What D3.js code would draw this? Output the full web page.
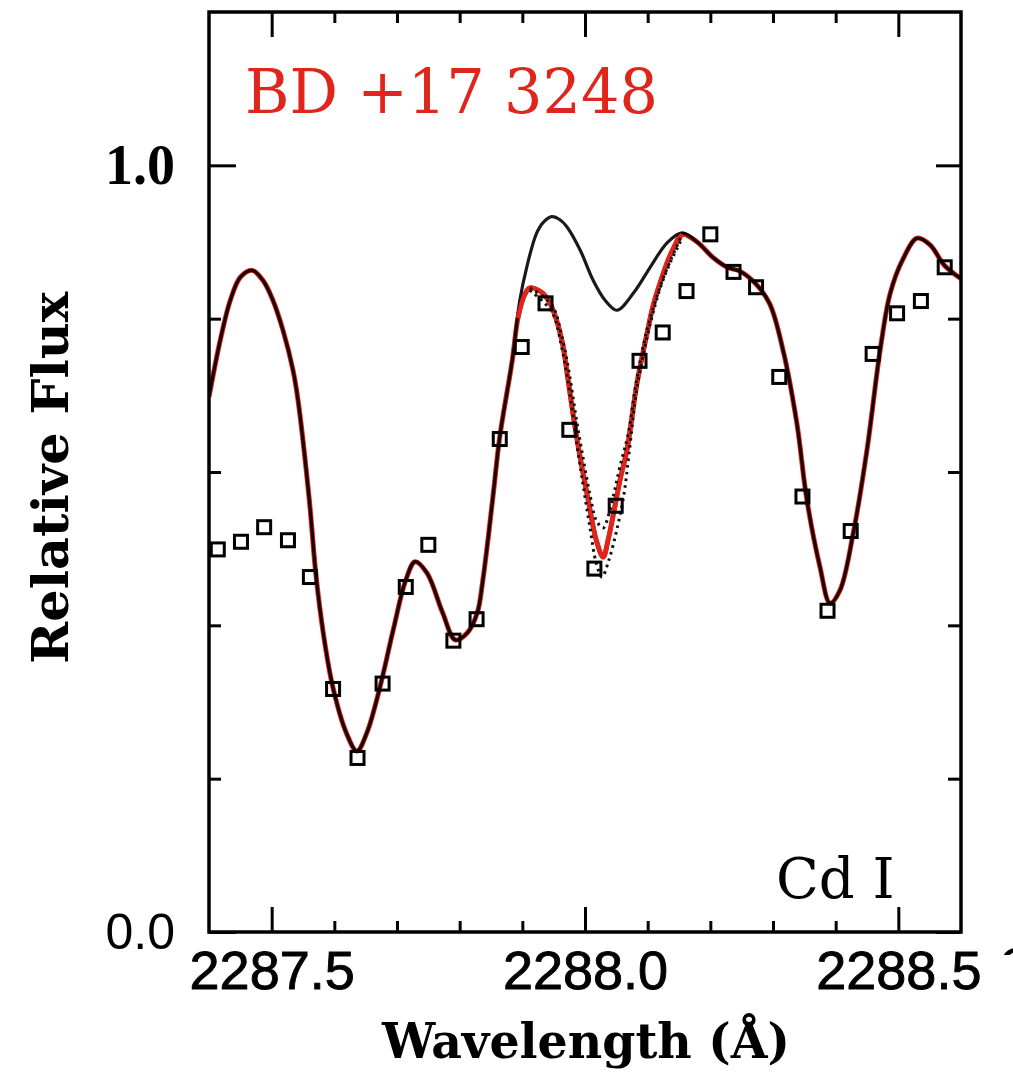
<!DOCTYPE html>
<html>
<head>
<meta charset="utf-8">
<script src="https://cdn.jsdelivr.net/npm/d3@7"></script>
<style>
  html, body { margin: 0; padding: 0; background: #ffffff; }
  svg { display: block; }
</style>
</head>
<body>
<svg id="chart" width="1013" height="1080"></svg>
<script>
// ---- Observed spectrum (squares) ----
const obsWave = [2287.414, 2287.451, 2287.488, 2287.526, 2287.561, 2287.598, 2287.637, 2287.677,
                 2287.714, 2287.750, 2287.790, 2287.827, 2287.864, 2287.899, 2287.937, 2287.975,
                 2288.015, 2288.049, 2288.087, 2288.124, 2288.162, 2288.200, 2288.237, 2288.273,
                 2288.310, 2288.347, 2288.387, 2288.424, 2288.459, 2288.498, 2288.536, 2288.574];
const obsFlux = [0.499, 0.509, 0.528, 0.511, 0.463, 0.317, 0.227, 0.324,
                 0.450, 0.505, 0.380, 0.408, 0.643, 0.763, 0.820, 0.655,
                 0.474, 0.556, 0.745, 0.782, 0.836, 0.910, 0.861, 0.841,
                 0.724, 0.568, 0.419, 0.523, 0.754, 0.807, 0.823, 0.867];

// ---- Synthetic spectrum without Cd (black) ----
const synthWave = [2287.400, 2287.418, 2287.434, 2287.450, 2287.469, 2287.486, 2287.502, 2287.518,
                   2287.534, 2287.542, 2287.560, 2287.571, 2287.584, 2287.598, 2287.619,
                   2287.636, 2287.652, 2287.673, 2287.694, 2287.714, 2287.729, 2287.748, 2287.773,
                   2287.793, 2287.812, 2287.828, 2287.837, 2287.853, 2287.864, 2287.884, 2287.896,
                   2287.907, 2287.923, 2287.935, 2287.947, 2287.960, 2287.971, 2287.992, 2288.013,
                   2288.032, 2288.051, 2288.077, 2288.104, 2288.131, 2288.155, 2288.179, 2288.204,
                   2288.227, 2288.247, 2288.273, 2288.295, 2288.316, 2288.338, 2288.354, 2288.375,
                   2288.391, 2288.407, 2288.428, 2288.450, 2288.471, 2288.487, 2288.507, 2288.530,
                   2288.551, 2288.573, 2288.600];
const synthFlux = [0.698, 0.772, 0.824, 0.854, 0.863, 0.850, 0.824, 0.785,
                   0.733, 0.694, 0.564, 0.463, 0.381, 0.318, 0.260,
                   0.236, 0.260, 0.320, 0.394, 0.459, 0.483, 0.468, 0.416,
                   0.381, 0.390, 0.416, 0.459, 0.567, 0.646, 0.746, 0.824,
                   0.867, 0.912, 0.927, 0.933, 0.929, 0.920, 0.890, 0.850,
                   0.824, 0.811, 0.833, 0.867, 0.899, 0.912, 0.900, 0.880,
                   0.867, 0.862, 0.845, 0.819, 0.759, 0.664, 0.564, 0.476,
                   0.429, 0.446, 0.520, 0.629, 0.759, 0.833, 0.877, 0.905,
                   0.896, 0.870, 0.852];

// ---- Synthesis with the adopted Cd abundance (red), across the Cd I line ----
const cdWave = [2287.893, 2287.903, 2287.912, 2287.933, 2287.947, 2287.963, 2287.973, 2287.984,
                2287.995, 2288.005, 2288.018, 2288.029, 2288.037, 2288.047, 2288.056, 2288.067,
                2288.083, 2288.099, 2288.109, 2288.120, 2288.131, 2288.140, 2288.155];
const cdFlux = [0.801, 0.830, 0.840, 0.833, 0.815, 0.772, 0.720, 0.659,
                0.607, 0.564, 0.511, 0.489, 0.512, 0.552, 0.590, 0.629,
                0.716, 0.781, 0.818, 0.847, 0.873, 0.890, 0.910];

// ---- Syntheses with Cd raised / lowered (dotted) ----
const cdHighWave = [2287.912, 2287.947, 2287.963, 2287.975, 2287.986, 2287.997, 2288.008, 2288.018,
                    2288.027, 2288.038, 2288.050, 2288.062, 2288.070, 2288.083, 2288.099, 2288.112,
                    2288.123, 2288.136, 2288.155];
const cdHighFlux = [0.837, 0.809, 0.762, 0.707, 0.642, 0.583, 0.527, 0.481,
                    0.463, 0.485, 0.522, 0.570, 0.622, 0.710, 0.776, 0.818,
                    0.847, 0.873, 0.905];
const cdLowWave = [2287.912, 2287.947, 2287.963, 2287.975, 2287.986, 2287.997, 2288.008, 2288.018,
                   2288.029, 2288.038, 2288.047, 2288.056, 2288.069, 2288.083, 2288.099, 2288.112,
                   2288.123, 2288.136, 2288.155];
const cdLowFlux = [0.840, 0.818, 0.777, 0.728, 0.670, 0.618, 0.570, 0.537,
                   0.527, 0.545, 0.575, 0.608, 0.650, 0.723, 0.785, 0.822,
                   0.849, 0.875, 0.910];

// ---- Axis ticks and labels ----
const xMajorTicks = [2287.5, 2288.0, 2288.5];
const xMinorTicks = [2287.6, 2287.7, 2287.8, 2287.9, 2288.1, 2288.2, 2288.3, 2288.4];
const yMajorTicks = [0.0, 1.0];
const yMinorTicks = [0.2, 0.4, 0.6, 0.8];
const starName = "BD +17 3248";
const lineName = "Cd I";
const xTitle = "Wavelength (Å)";
const yTitle = "Relative Flux";

// ---- Layout ----
const plot = { left: 209, right: 961, top: 12, bottom: 932 };
const RED = "#e0261c";

const svg = d3.select("#chart");
const x = d3.scaleLinear().domain([2287.4, 2288.6]).range([plot.left, plot.right]);
const y = d3.scaleLinear().domain([0, 1.2]).range([plot.bottom, plot.top]);

const zip = (w, f) => w.map((v, i) => ({ w: v, f: f[i] }));
const blackPts = zip(synthWave, synthFlux);
const cdPts = zip(cdWave, cdFlux);
// red curve follows the no-Cd synthesis away from the Cd line
const redPts = blackPts.filter(p => p.w < cdWave[0])
  .concat(cdPts)
  .concat(blackPts.filter(p => p.w > cdWave[cdWave.length - 1]));

const line = d3.line().x(d => x(d.w)).y(d => y(d.f)).curve(d3.curveCatmullRom.alpha(0.5));

svg.append("clipPath").attr("id", "plotClip")
  .append("rect").attr("x", plot.left).attr("y", plot.top)
  .attr("width", plot.right - plot.left).attr("height", plot.bottom - plot.top);

const g = svg.append("g").attr("clip-path", "url(#plotClip)");

g.append("path").datum(redPts).attr("d", line)
  .attr("fill", "none").attr("stroke", RED).attr("stroke-width", 5)
  .attr("stroke-linejoin", "round");
g.append("path").datum(blackPts).attr("d", line)
  .attr("fill", "none").attr("stroke", "#000").attr("stroke-opacity", 0.9)
  .attr("stroke-width", 3.2);
g.append("path").datum(cdPts).attr("d", line)
  .attr("fill", "none").attr("stroke", RED).attr("stroke-width", 4.5);
[zip(cdHighWave, cdHighFlux), zip(cdLowWave, cdLowFlux)].forEach(pts => {
  g.append("path").datum(pts).attr("d", line)
    .attr("fill", "none").attr("stroke", "#111").attr("stroke-width", 3)
    .attr("stroke-dasharray", "2.6 4.2");
});

// observed points
const sq = 13;
g.selectAll("rect.obs").data(zip(obsWave, obsFlux)).join("rect")
  .attr("class", "obs")
  .attr("x", d => x(d.w) - sq / 2).attr("y", d => y(d.f) - sq / 2)
  .attr("width", sq).attr("height", sq)
  .attr("fill", "none").attr("stroke", "#000").attr("stroke-width", 3);

// ---- Axes (ticks point inward on all four sides) ----
function styleAxis(sel) {
  sel.select(".domain").remove();
  sel.selectAll(".tick line").attr("stroke", "#000").attr("stroke-width", 3);
}
const bottomMajor = svg.append("g").attr("transform", `translate(0,${plot.bottom})`)
  .call(d3.axisBottom(x).tickValues(xMajorTicks).tickSize(-25).tickFormat(d3.format(".1f")));
styleAxis(bottomMajor);
bottomMajor.selectAll("text")
  .attr("y", 57).attr("dy", null)
  .attr("font-family", "'Liberation Sans', Arial, sans-serif")
  .attr("font-size", 54).attr("fill", "#000")
  .attr("stroke", "#000").attr("stroke-width", 0.9);
styleAxis(svg.append("g").attr("transform", `translate(0,${plot.bottom})`)
  .call(d3.axisBottom(x).tickValues(xMinorTicks).tickSize(-11).tickFormat("")));
styleAxis(svg.append("g").attr("transform", `translate(0,${plot.top})`)
  .call(d3.axisTop(x).tickValues(xMajorTicks).tickSize(-25).tickFormat("")));
styleAxis(svg.append("g").attr("transform", `translate(0,${plot.top})`)
  .call(d3.axisTop(x).tickValues(xMinorTicks).tickSize(-11).tickFormat("")));

const leftMajor = svg.append("g").attr("transform", `translate(${plot.left},0)`)
  .call(d3.axisLeft(y).tickValues(yMajorTicks).tickSize(-27).tickPadding(34)
    .tickFormat(d3.format(".1f")));
styleAxis(leftMajor);
leftMajor.selectAll("text")
  .attr("dy", "0.33em").attr("fill", "#000")
  .attr("font-family", d => d === 0 ? "'Liberation Sans', Arial, sans-serif" : "'Liberation Serif', 'Times New Roman', serif")
  .attr("font-weight", d => d === 0 ? "normal" : "bold")
  .attr("font-size", d => d === 0 ? 50 : 56);
styleAxis(svg.append("g").attr("transform", `translate(${plot.left},0)`)
  .call(d3.axisLeft(y).tickValues(yMinorTicks).tickSize(-12).tickFormat("")));
styleAxis(svg.append("g").attr("transform", `translate(${plot.right},0)`)
  .call(d3.axisRight(y).tickValues(yMajorTicks).tickSize(-25).tickFormat("")));
styleAxis(svg.append("g").attr("transform", `translate(${plot.right},0)`)
  .call(d3.axisRight(y).tickValues(yMinorTicks).tickSize(-13).tickFormat("")));

// frame
svg.append("rect")
  .attr("x", plot.left).attr("y", plot.top)
  .attr("width", plot.right - plot.left).attr("height", plot.bottom - plot.top)
  .attr("fill", "none").attr("stroke", "#000").attr("stroke-width", 3.5);

// ---- Text ----
svg.append("text")
  .attr("x", 245).attr("y", 113)
  .attr("font-family", "'DejaVu Serif', serif").attr("font-size", 62)
  .attr("fill", RED).attr("textLength", 413).attr("lengthAdjust", "spacingAndGlyphs")
  .text(starName);

svg.append("text")
  .attr("x", 776).attr("y", 898)
  .attr("font-family", "'DejaVu Serif', serif").attr("font-size", 56)
  .attr("fill", "#000")
  .text(lineName);

svg.append("text")
  .attr("transform", "translate(586,1058) scale(1,1.12)")
  .attr("x", -204)
  .attr("font-family", "'DejaVu Serif', serif")
  .attr("font-weight", "bold").attr("font-size", 44)
  .attr("textLength", 408).attr("lengthAdjust", "spacingAndGlyphs")
  .attr("fill", "#000")
  .text(xTitle);

svg.append("text")
  .attr("transform", "translate(68,478) rotate(-90) scale(1,1.15)")
  .attr("x", -186)
  .attr("font-family", "'DejaVu Serif', serif")
  .attr("font-weight", "bold").attr("font-size", 44)
  .attr("textLength", 372).attr("lengthAdjust", "spacingAndGlyphs")
  .attr("fill", "#000")
  .text(yTitle);

// edge of the neighbouring panel's label, cut by the page border
svg.append("clipPath").attr("id", "edgeClip")
  .append("rect").attr("x", 990).attr("y", 925).attr("width", 30).attr("height", 30);
svg.append("text")
  .attr("clip-path", "url(#edgeClip)")
  .attr("x", 998).attr("y", 985)
  .attr("font-family", "'Liberation Sans', Arial, sans-serif").attr("font-size", 54)
  .attr("fill", "#000")
  .text("C");
</script>
</body>
</html>
